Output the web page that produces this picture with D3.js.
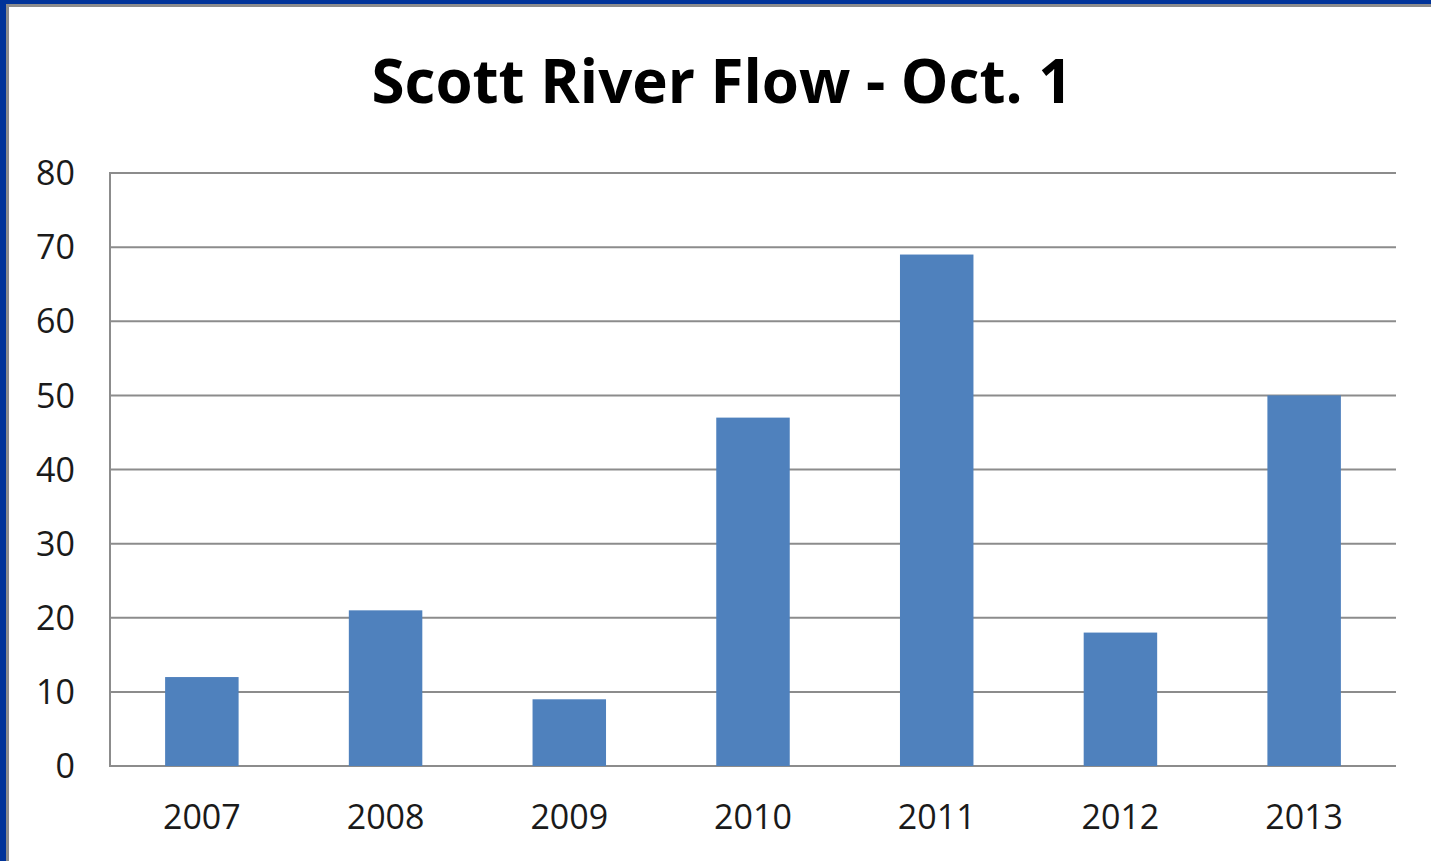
<!DOCTYPE html>
<html><head><meta charset="utf-8">
<script src="https://cdn.jsdelivr.net/npm/d3@7"></script>
<style>html,body{margin:0;padding:0;background:#fff;overflow:hidden}</style>
</head><body>
<svg id="c" width="1431" height="861"></svg>
<script>
const title = "Scott River Flow - Oct. 1";
const years = ["2007","2008","2009","2010","2011","2012","2013"];
const flows = [12, 21, 9, 47, 69, 18, 50];
const yTicks = [0,10,20,30,40,50,60,70,80];

(function(){
const svg = d3.select("#c");
// frame
svg.append("rect").attr("x",0).attr("y",0).attr("width",1431).attr("height",861).attr("fill","#003399");
svg.append("rect").attr("x",6).attr("y",4).attr("width",1431).attr("height",861).attr("fill","#8c8c8c");
svg.append("rect").attr("x",9).attr("y",7).attr("width",1431).attr("height",861).attr("fill","#ffffff");

const pl = 110, pr = 1396, pt = 173, pb = 766;
const x = d3.scaleBand().domain(years).range([pl,pr]).paddingInner(0.6).paddingOuter(0.3);
const y = d3.scaleLinear().domain([0,80]).range([pb,pt]);

// gridlines
svg.append("g").selectAll("line").data(yTicks).join("line")
  .attr("x1",pl).attr("x2",pr)
  .attr("y1",d=>y(d)).attr("y2",d=>y(d))
  .attr("stroke","#8c8c8c").attr("stroke-width",2);
svg.append("line").attr("x1",pl).attr("x2",pl).attr("y1",pt-1).attr("y2",pb+1)
  .attr("stroke","#8c8c8c").attr("stroke-width",2);

// bars
svg.append("g").selectAll("rect").data(years).join("rect")
  .attr("x",d=>x(d)).attr("width",x.bandwidth())
  .attr("y",(d,i)=>y(flows[i])).attr("height",(d,i)=>y(0)-y(flows[i]))
  .attr("fill","#4f81bd");

// y labels
svg.append("g").selectAll("text").data(yTicks).join("text")
  .attr("x",pl-35).attr("y",d=>y(d)).attr("dy","0.36em")
  .attr("text-anchor","end")
  .style("font-family","'Open Sans', sans-serif").style("font-size","34px").attr("fill","#1a1a1a")
  .text(d=>d);

// x labels
svg.append("g").selectAll("text").data(years).join("text")
  .attr("x",d=>x(d)+x.bandwidth()/2).attr("y",829)
  .attr("text-anchor","middle")
  .style("font-family","'Open Sans', sans-serif").style("font-size","34px").attr("fill","#1a1a1a")
  .text(d=>d);

// title
svg.append("text").attr("x",722).attr("y",103).attr("text-anchor","middle")
  .style("font-family","'Open Sans', sans-serif").style("font-weight","bold").style("font-size","60px")
  .attr("fill","#000").text(title);
})();
</script>
</body></html>
